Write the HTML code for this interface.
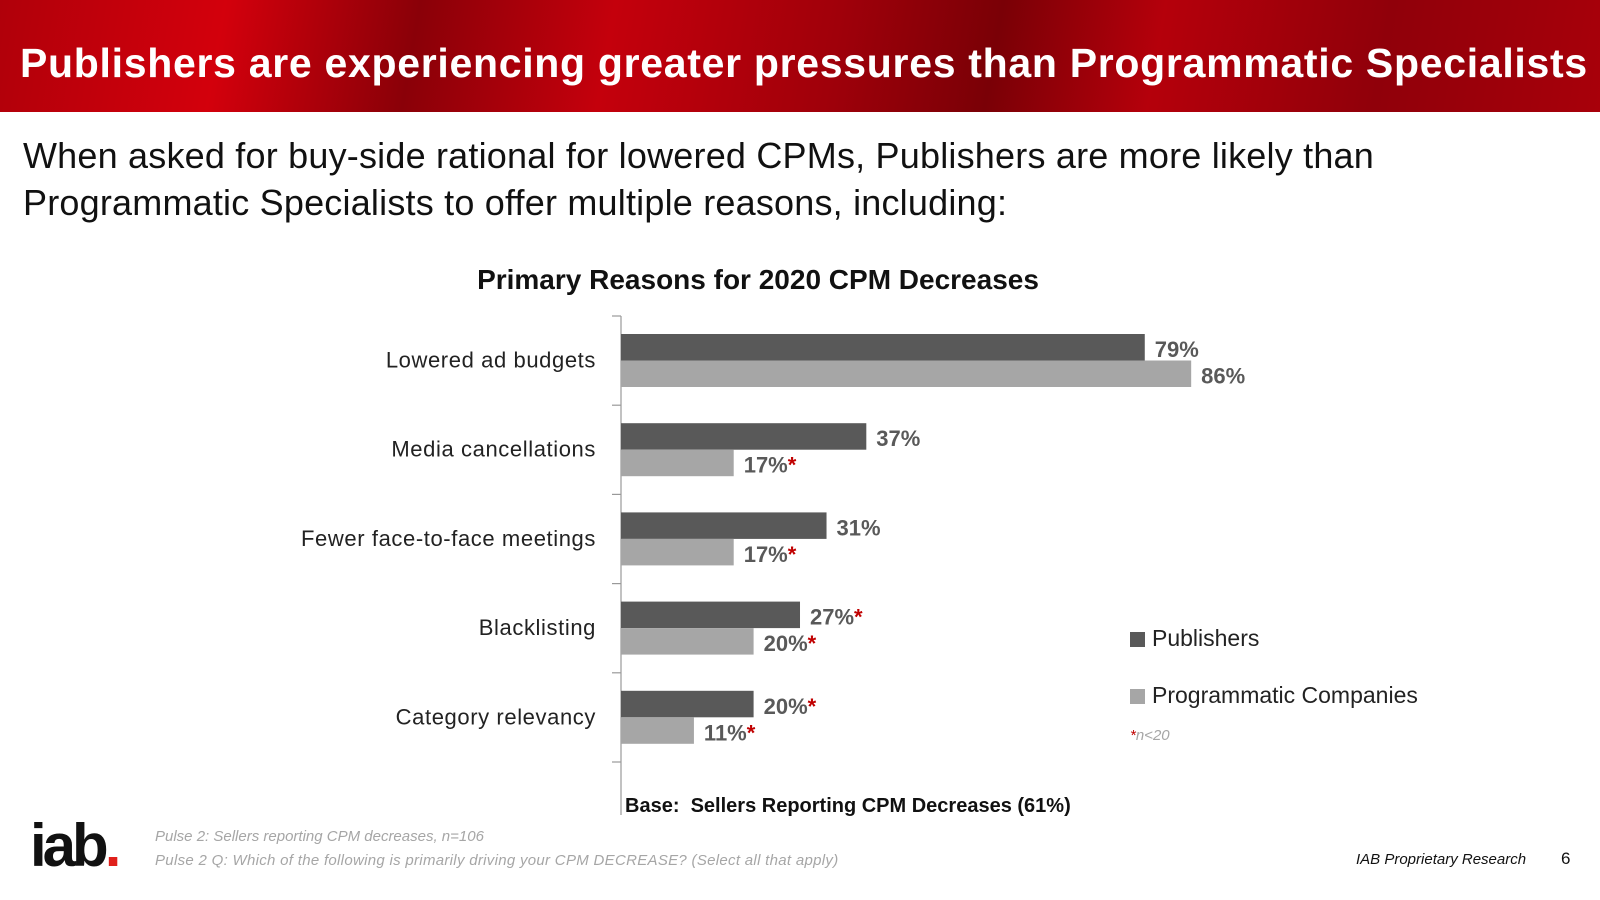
<!DOCTYPE html>
<html><head><meta charset="utf-8"><style>
body{margin:0;width:1600px;height:900px;position:relative;overflow:hidden;background:#fff;font-family:"Liberation Sans","DejaVu Sans",sans-serif}
.abs{position:absolute;white-space:nowrap}
</style></head><body>
<div class="abs" style="left:0;top:0;width:1600px;height:112px;background:linear-gradient(100deg,#b0000a 0%,#d3000c 14%,#8a0008 26%,#c4000c 38%,#a0000a 52%,#7a0006 62%,#b5000b 72%,#90000a 86%,#a8000a 100%)"></div>
<div class="abs" style="left:20px;top:40px;font-size:41px;font-weight:bold;color:#fff;letter-spacing:0.7px">Publishers are experiencing greater pressures than Programmatic Specialists</div>
<div class="abs" style="left:23px;top:132px;font-size:36px;line-height:47px;color:#111;letter-spacing:0.2px">When asked for buy-side rational for lowered CPMs, Publishers are more likely than<br>Programmatic Specialists to offer multiple reasons, including:</div>
<div class="abs" style="left:0;width:1516px;text-align:center;top:264px;font-size:28px;font-weight:bold;color:#111">Primary Reasons for 2020 CPM Decreases</div>
<svg id="chart" class="abs" style="left:0;top:0" width="1600" height="900"></svg>
<div class="abs" style="left:625px;top:795px;font-size:20px;font-weight:bold;color:#111">Base:&nbsp; Sellers Reporting CPM Decreases (61%)</div>
<div class="abs" style="left:1130px;top:625px;font-size:23px;color:#222"><span style="display:inline-block;width:15px;height:15px;background:#595959;margin-right:7px;vertical-align:-1px"></span>Publishers</div>
<div class="abs" style="left:1130px;top:682px;font-size:23px;color:#222"><span style="display:inline-block;width:15px;height:15px;background:#a6a6a6;margin-right:7px;vertical-align:-1px"></span>Programmatic Companies</div>
<div class="abs" style="left:1130px;top:727px;font-size:15px;font-style:italic;color:#a6a6a6"><span style="color:#c00000">*</span>n&lt;20</div>
<div class="abs" style="left:30px;top:816px;font-size:60px;font-weight:bold;color:#111;letter-spacing:-4px;line-height:60px">iab<span style="color:#e0201b">.</span></div>
<div class="abs" style="left:155px;top:828px;font-size:15px;font-style:italic;color:#a6a6a6">Pulse 2: Sellers reporting CPM decreases, n=106</div>
<div class="abs" style="left:155px;top:852px;font-size:15px;font-style:italic;color:#a6a6a6;letter-spacing:0.3px">Pulse 2 Q: Which of the following is primarily driving your CPM DECREASE? (Select all that apply)</div>
<div class="abs" style="left:1356px;top:851px;font-size:15px;font-style:italic;color:#111">IAB Proprietary Research</div>
<div class="abs" style="left:1561px;top:849px;font-size:17px;color:#111">6</div>
<script>
const categories=["Lowered ad budgets","Media cancellations","Fewer face-to-face meetings","Blacklisting","Category relevancy"];
const publishers=[79,37,31,27,20];
const programmatic=[86,17,17,20,11];
const pubStar=[false,false,false,true,true];
const progStar=[false,true,true,true,true];
const svg=document.getElementById('chart');
const NS='http://www.w3.org/2000/svg';
const x0=621, pxPer=6.63, top0=316, band=89.2, barH=26.5;
const xs=v=>x0+v*pxPer;
function mk(t,a){const e=document.createElementNS(NS,t);for(const k in a)e.setAttribute(k,a[k]);svg.appendChild(e);return e;}
const axis=mk('line',{x1:x0,x2:x0,y1:top0,y2:815,stroke:'#999','stroke-width':1.2});


for(let i=0;i<=categories.length;i++){
 const y=top0+i*band;
 const t=mk('line',{x1:x0-9,x2:x0,y1:y,y2:y,stroke:'#999','stroke-width':1.2});
 
 
}
function label(x,y,v,star,name){
 const t=mk('text',{x:x,y:y,'font-size':22,'font-weight':'bold',fill:'#595959','font-family':'Liberation Sans, sans-serif'});
 
 
 t.textContent=v+'%';
 if(star){const s=document.createElementNS(NS,'tspan');s.setAttribute('fill','#c00000');s.textContent='*';t.appendChild(s);}
}
categories.forEach((c,i)=>{
 const gt=top0+i*band+18;
 const cl=mk('text',{x:596,y:gt+barH+7,'text-anchor':'end','font-size':22,fill:'#222','font-family':'Liberation Sans, sans-serif','letter-spacing':'0.6'});
 
 
 cl.textContent=c;
 const b1=mk('rect',{x:x0,y:gt,width:xs(publishers[i])-x0,height:barH,fill:'#595959'});
 
 
 const b2=mk('rect',{x:x0,y:gt+barH,width:xs(programmatic[i])-x0,height:barH,fill:'#a6a6a6'});
 
 
 label(xs(publishers[i])+10,gt+23,publishers[i],pubStar[i],'value-label-publishers');
 label(xs(programmatic[i])+10,gt+barH+23,programmatic[i],progStar[i],'value-label-programmatic');
});
</script>
</body></html>
